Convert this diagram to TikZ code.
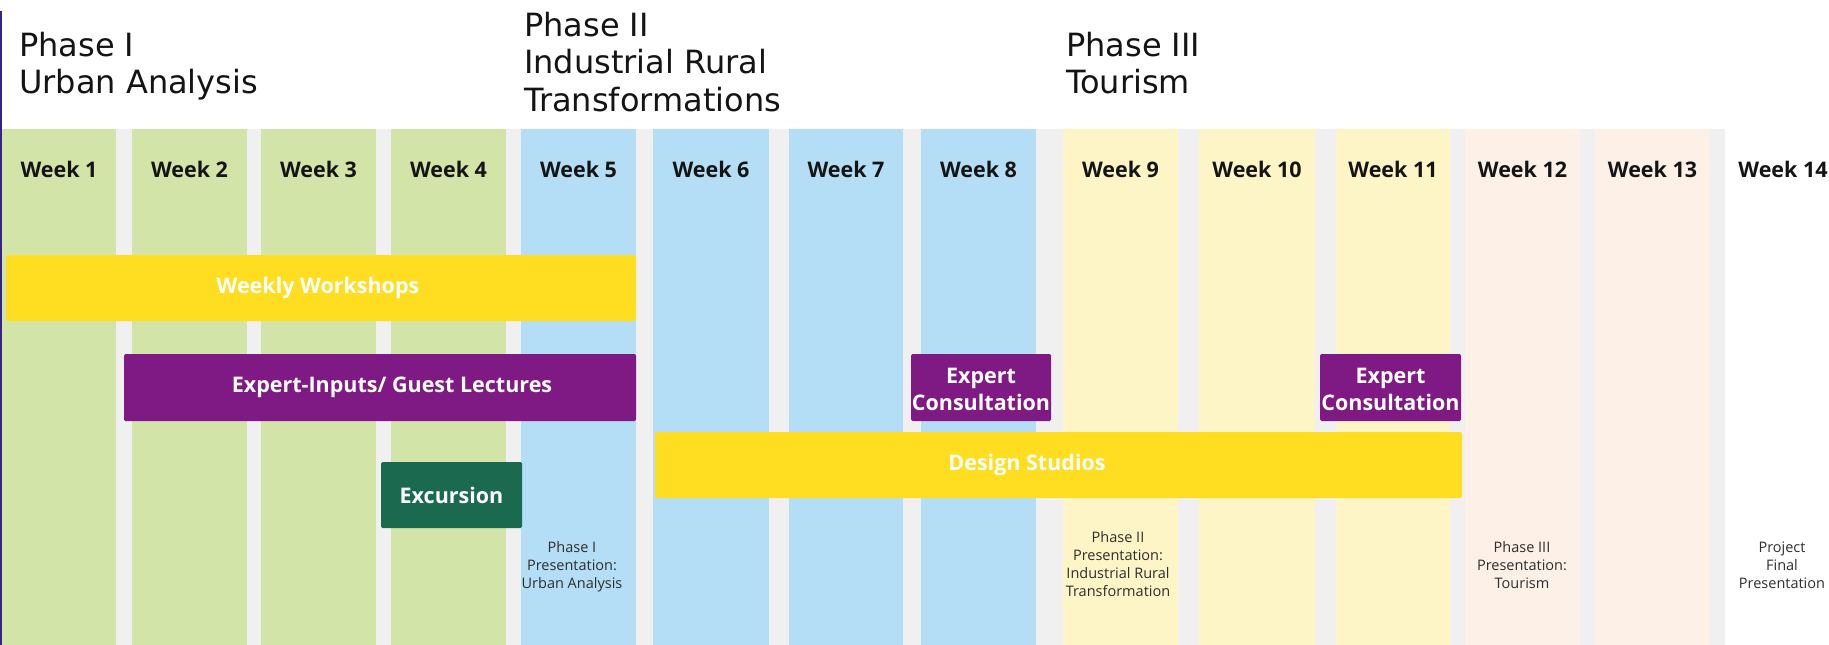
\documentclass[tikz,border=0pt]{standalone}
\usepackage{fontspec}
\setmainfont{Open Sans}
\newfontfamily\hdrfont{DejaVu Sans}
\definecolor{cgreen}{RGB}{211,228,169}
\definecolor{cblue}{RGB}{179,222,245}
\definecolor{cyel}{RGB}{254,245,198}
\definecolor{cpeach}{RGB}{253,240,230}
\definecolor{cgray}{RGB}{240,240,240}
\definecolor{byellow}{RGB}{255,222,33}
\definecolor{bpurple}{RGB}{127,25,131}
\definecolor{bgreen}{RGB}{27,106,79}
\definecolor{edgeline}{RGB}{55,35,135}
\begin{document}
\begin{tikzpicture}[x=1pt,y=-1pt,
  col/.style={anchor=north west, inner sep=0pt, outer sep=0pt, minimum height=516pt},
  bar/.style={anchor=north west, inner sep=0pt, outer sep=0pt, rounded corners=1.5pt},
  bartext/.style={text=white, font=\fontsize{21.5}{26.5}\selectfont\bfseries, align=center, inner sep=0pt},
  wk/.style={anchor=base, inner sep=0pt, font=\fontsize{21.5}{26}\selectfont\bfseries, text=black!92},
  hdr/.style={anchor=north west, inner sep=0pt, align=left, font=\hdrfont\fontsize{32}{37.5}\selectfont, text=black!92},
  pres/.style={anchor=north, inner sep=0pt, align=center, font=\fontsize{14.5}{18}\selectfont, text=black!82}
]
\useasboundingbox (0,0) rectangle (1829,645);
\fill[white] (0,0) rectangle (1829,645);
\fill[cgray] (0,129) rectangle (1829,645);
\draw[edgeline, line width=2pt] (1,11) -- (1,645);

% week columns
\foreach \i/\a/\b/\c/\t in {1/2/116/cgreen/0, 2/132/247/cgreen/0, 3/261/376/cgreen/0, 4/391/506/cgreen/0,
  5/521/636/cblue/0, 6/653/769/cblue/0, 7/789/903/cblue/0, 8/921/1036/cblue/0,
  9/1063/1178/cyel/0, 10/1199/1315/cyel/0, 11/1336/1450/cyel/0,
  12/1465/1580/cpeach/0, 13/1595/1710/cpeach/0, 14/1725/1829/white/6}{
  \pgfmathsetmacro\w{\b-\a}
  \pgfmathsetmacro\m{(\a+\b)/2+\t}
  \node[col, fill=\c, minimum width=\w pt] (c\i) at (\a,129) {};
  \node[wk] (w\i) at (\m,177) {Week \i};
}

% phase headers
\node[hdr] (ph1) at (19,24) {\rule{0pt}{32pt}Phase I\\Urban Analysis};
\node[hdr] (ph2) at (524,4) {\rule{0pt}{32pt}Phase II\\Industrial Rural\\Transformations};
\node[hdr] (ph3) at (1066,24) {\rule{0pt}{32pt}Phase III\\Tourism};

% bars
\node[bar, fill=byellow, minimum width=630pt, minimum height=66pt] (ww) at (6,255) {};
\node[bartext] (wwt) at (318,288) {Weekly Workshops};

\node[bar, fill=bpurple, minimum width=512pt, minimum height=67pt] (gl) at (124,354) {};
\node[bartext] (glt) at (392,387.5) {Expert-Inputs/ Guest Lectures};

\node[bar, fill=bgreen, minimum width=141pt, minimum height=66pt] (ex) at (381,462) {};
\node[bartext] (ext) at (451.5,495) {Excursion};

\node[bar, fill=bpurple, minimum width=140pt, minimum height=67pt] (ec1) at (911,354) {};
\node[bartext, font=\fontsize{21.5}{27}\selectfont\bfseries] (ec1t) at (981,389) {Expert\\Consultation};

\node[bar, fill=bpurple, minimum width=141pt, minimum height=67pt] (ec2) at (1320,354) {};
\node[bartext, font=\fontsize{21.5}{27}\selectfont\bfseries] (ec2t) at (1390.5,389) {Expert\\Consultation};

\node[bar, fill=byellow, minimum width=807pt, minimum height=66pt] (ds) at (655,432) {};
\node[bartext] (dst) at (1027,465) {Design Studios};

% presentations
\node[pres] (p1) at (572,538) {\rule{0pt}{14pt}Phase I\\Presentation:\\Urban Analysis};
\node[pres] (p2) at (1118,528) {\rule{0pt}{14pt}Phase II\\Presentation:\\Industrial Rural\\Transformation};
\node[pres] (p3) at (1522,538) {\rule{0pt}{14pt}Phase III\\Presentation:\\Tourism};
\node[pres] (p4) at (1782,538) {\rule{0pt}{14pt}Project\\Final\\Presentation};
\end{tikzpicture}
\end{document}
